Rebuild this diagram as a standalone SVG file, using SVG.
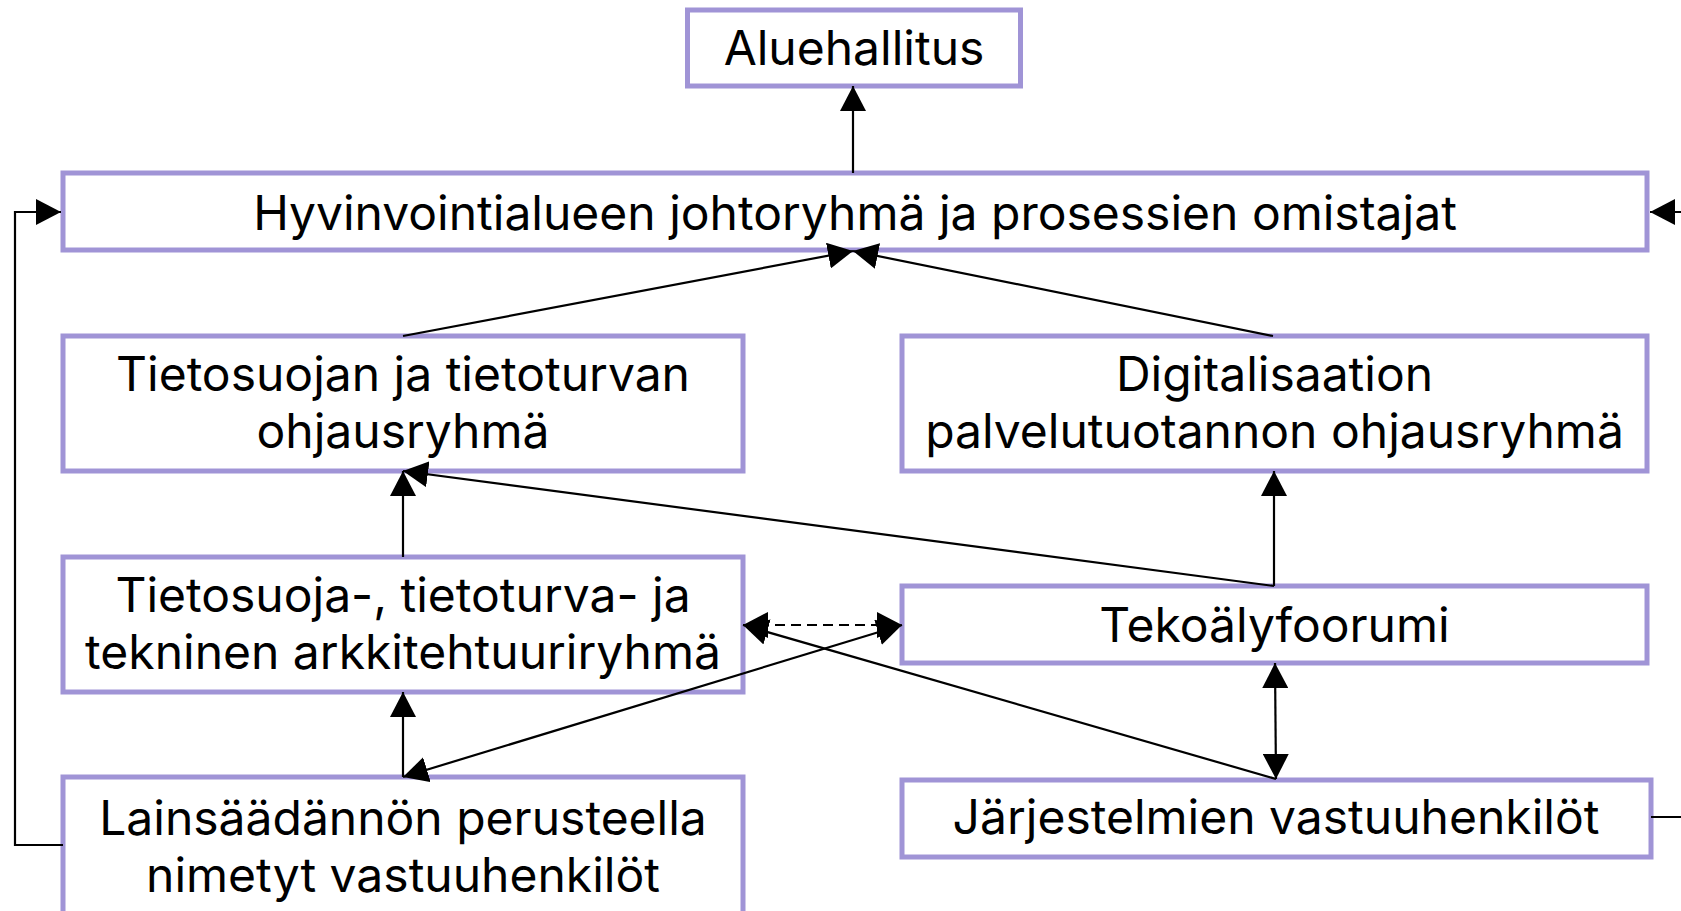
<svg xmlns="http://www.w3.org/2000/svg" width="1681" height="911" viewBox="0 0 1681 911">
<style>
.box{fill:#fff;stroke:#a094d6;stroke-width:5}
.t{font-family:Inter,"Noto Sans","Liberation Sans",sans-serif;font-size:48px;fill:#000;text-anchor:middle}
.c{fill:none;stroke:#000;stroke-width:2.2}
.a{marker-end:url(#ah)}
.b{marker-start:url(#ah);marker-end:url(#ah)}
.d{stroke-dasharray:10 6}
</style>
<defs>
<marker id="ah" markerUnits="userSpaceOnUse" markerWidth="26" markerHeight="26" refX="25" refY="13" orient="auto-start-reverse" viewBox="0 0 26 26">
<path d="M0,0 L25,13 L0,26 Z" fill="#000"/>
</marker>
</defs>
<rect width="1681" height="911" fill="#fff"/>
<g id="n-aluehallitus"><rect class="box" x="687.5" y="10" width="333" height="76"/><text class="t" x="854" y="65">Aluehallitus</text></g>
<g id="n-johtoryhma"><rect class="box" x="63" y="173" width="1584" height="77"/><text class="t" x="855" y="230">Hyvinvointialueen johtoryhmä ja prosessien omistajat</text></g>
<g id="n-tietosuojan"><rect class="box" x="63" y="336" width="680" height="135"/><text class="t" x="403" y="391">Tietosuojan ja tietoturvan</text><text class="t" x="403" y="448">ohjausryhmä</text></g>
<g id="n-digitalisaation"><rect class="box" x="902" y="336" width="745" height="135"/><text class="t" x="1274.5" y="391">Digitalisaation</text><text class="t" x="1274.5" y="448">palvelutuotannon ohjausryhmä</text></g>
<g id="n-arkkitehtuuri"><rect class="box" x="63" y="557" width="680" height="135"/><text class="t" x="403" y="612">Tietosuoja-, tietoturva- ja</text><text class="t" x="403" y="669">tekninen arkkitehtuuriryhmä</text></g>
<g id="n-tekoaly"><rect class="box" x="902" y="586" width="745" height="77"/><text class="t" x="1274.5" y="642">Tekoälyfoorumi</text></g>
<g id="n-lainsaadanto"><rect class="box" x="63" y="777" width="680" height="140"/><text class="t" x="403" y="835">Lainsäädännön perusteella</text><text class="t" x="403" y="892">nimetyt vastuuhenkilöt</text></g>
<g id="n-jarjestelmat"><rect class="box" x="902" y="780" width="749" height="77"/><text class="t" x="1276" y="834">Järjestelmien vastuuhenkilöt</text></g>
<g id="connectors">
<line class="c a" x1="853" y1="173" x2="853" y2="86"/>
<line class="c a" x1="403" y1="336" x2="853" y2="251"/>
<line class="c a" x1="1273" y1="336" x2="853" y2="251"/>
<line class="c a" x1="403" y1="557" x2="403" y2="471"/>
<line class="c a" x1="1274" y1="586" x2="1274" y2="471"/>
<line class="c a" x1="1274" y1="586" x2="403" y2="471"/>
<line class="c a" x1="403" y1="777" x2="403" y2="692"/>
<line class="c b" x1="403" y1="777" x2="902" y2="625"/>
<line class="c a" x1="1276" y1="779" x2="743" y2="625"/>
<line class="c b d" x1="743" y1="625" x2="902" y2="625"/>
<line class="c b" x1="1275" y1="663" x2="1276" y2="779"/>
<path class="c a" d="M63,845 H15 V212 H61"/>
<path class="c a" d="M1651,817 H1700 V212 H1650"/>
</g>
</svg>
